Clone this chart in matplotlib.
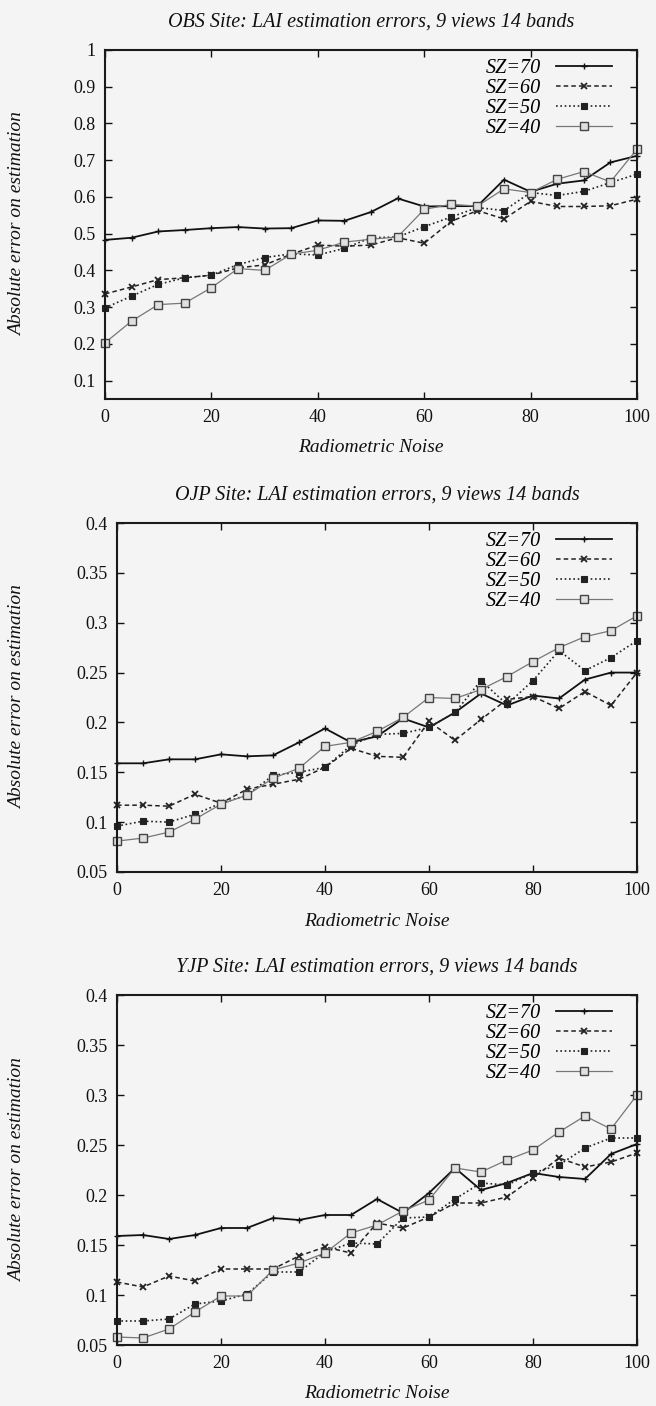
import matplotlib
matplotlib.use("Agg")
import matplotlib.pyplot as plt
from matplotlib.ticker import FuncFormatter

noise = [0, 5, 10, 15, 20, 25, 30, 35, 40, 45, 50, 55, 60, 65, 70, 75, 80, 85, 90, 95, 100]
labels = ["SZ=70", "SZ=60", "SZ=50", "SZ=40"]

titles = ["OBS Site: LAI estimation errors, 9 views 14 bands",
          "OJP Site: LAI estimation errors, 9 views 14 bands",
          "YJP Site: LAI estimation errors, 9 views 14 bands"]

# OBS site
obs_sz70 = [0.483, 0.489, 0.506, 0.510, 0.515, 0.518, 0.514, 0.515, 0.536, 0.535, 0.559,
            0.596, 0.574, 0.575, 0.575, 0.647, 0.614, 0.636, 0.645, 0.694, 0.712]
obs_sz60 = [0.336, 0.355, 0.375, 0.380, 0.387, 0.407, 0.415, 0.444, 0.469, 0.466, 0.469,
            0.489, 0.474, 0.533, 0.563, 0.540, 0.588, 0.574, 0.574, 0.576, 0.594]
obs_sz50 = [0.298, 0.330, 0.362, 0.380, 0.387, 0.416, 0.435, 0.445, 0.442, 0.460, 0.489,
            0.491, 0.519, 0.545, 0.571, 0.563, 0.612, 0.604, 0.615, 0.639, 0.662]
obs_sz40 = [0.203, 0.262, 0.307, 0.311, 0.353, 0.405, 0.400, 0.444, 0.455, 0.477, 0.485,
            0.491, 0.566, 0.580, 0.575, 0.622, 0.612, 0.648, 0.669, 0.641, 0.730]

# OJP site
ojp_sz70 = [0.159, 0.159, 0.163, 0.163, 0.168, 0.166, 0.167, 0.180, 0.194, 0.180, 0.186,
            0.204, 0.195, 0.210, 0.229, 0.217, 0.227, 0.224, 0.243, 0.250, 0.250]
ojp_sz60 = [0.117, 0.117, 0.116, 0.128, 0.119, 0.133, 0.138, 0.143, 0.155, 0.174, 0.166,
            0.165, 0.201, 0.182, 0.203, 0.223, 0.226, 0.214, 0.231, 0.217, 0.250]
ojp_sz50 = [0.096, 0.101, 0.100, 0.108, 0.119, 0.127, 0.147, 0.150, 0.155, 0.177, 0.188,
            0.189, 0.195, 0.210, 0.242, 0.218, 0.242, 0.272, 0.252, 0.265, 0.282]
ojp_sz40 = [0.081, 0.084, 0.090, 0.103, 0.118, 0.127, 0.144, 0.154, 0.176, 0.180, 0.191,
            0.205, 0.225, 0.224, 0.233, 0.246, 0.261, 0.275, 0.286, 0.292, 0.307]

# YJP site
yjp_sz70 = [0.159, 0.160, 0.156, 0.160, 0.167, 0.167, 0.177, 0.175, 0.180, 0.180, 0.196,
            0.182, 0.202, 0.227, 0.205, 0.212, 0.222, 0.218, 0.216, 0.241, 0.251]
yjp_sz60 = [0.113, 0.108, 0.119, 0.114, 0.126, 0.126, 0.126, 0.139, 0.148, 0.142, 0.172,
            0.167, 0.178, 0.192, 0.192, 0.198, 0.217, 0.237, 0.228, 0.233, 0.242]
yjp_sz50 = [0.074, 0.074, 0.076, 0.091, 0.094, 0.101, 0.123, 0.123, 0.143, 0.152, 0.151,
            0.177, 0.178, 0.196, 0.212, 0.210, 0.222, 0.230, 0.247, 0.257, 0.257]
yjp_sz40 = [0.058, 0.057, 0.066, 0.083, 0.099, 0.099, 0.125, 0.132, 0.142, 0.162, 0.170,
            0.184, 0.195, 0.227, 0.223, 0.235, 0.245, 0.263, 0.279, 0.266, 0.300]

panels = [
    dict(title=titles[0], series=[obs_sz70, obs_sz60, obs_sz50, obs_sz40],
         ylim=(0.05, 1.0), yticks=[0.1, 0.2, 0.3, 0.4, 0.5, 0.6, 0.7, 0.8, 0.9, 1.0],
         box=(105, 50, 637, 399)),
    dict(title=titles[1], series=[ojp_sz70, ojp_sz60, ojp_sz50, ojp_sz40],
         ylim=(0.05, 0.4), yticks=[0.05, 0.1, 0.15, 0.2, 0.25, 0.3, 0.35, 0.4],
         box=(117, 523, 637, 872)),
    dict(title=titles[2], series=[yjp_sz70, yjp_sz60, yjp_sz50, yjp_sz40],
         ylim=(0.05, 0.4), yticks=[0.05, 0.1, 0.15, 0.2, 0.25, 0.3, 0.35, 0.4],
         box=(117, 995, 637, 1345)),
]

W, H = 656, 1406
BG = "#f4f4f4"
FONT = "Liberation Serif"

styles = [
    dict(color="#111111", lw=1.3, ls="-", marker="+", ms=5, mew=1.0, mfc="#111111", mec="#111111"),
    dict(color="#222222", lw=1.1, ls=(0, (3, 2)), marker="x", ms=4.5, mew=1.3, mfc="#222222", mec="#222222"),
    dict(color="#222222", lw=1.2, ls=(0, (1, 1.6)), marker="s", ms=4, mew=0.8, mfc="#222222", mec="#222222"),
    dict(color="#777777", lw=0.9, ls="-", marker="s", ms=5.5, mew=1.0, mfc="#e0e0e0", mec="#444444"),
]

plt.rcParams["font.family"] = [FONT, "DejaVu Serif"]

fig = plt.figure(figsize=(W / 100, H / 100), dpi=100, facecolor=BG)

for p in panels:
    l, t, r, b = p["box"]
    ax = fig.add_axes([l / W, 1 - b / H, (r - l) / W, (b - t) / H])
    ax.set_facecolor(BG)
    hpx = b - t
    wpx = r - l
    handles = []
    for s, lab, st in zip(p["series"], labels, styles):
        h, = ax.plot(noise, s, label=lab, clip_on=False, **st)
        handles.append(h)
    ax.set_xlim(0, 100)
    ax.set_ylim(*p["ylim"])
    ax.set_xticks([0, 20, 40, 60, 80, 100])
    ax.set_yticks(p["yticks"])
    ax.yaxis.set_major_formatter(FuncFormatter(lambda v, pos: f"{v:g}"))
    ax.tick_params(direction="in", length=5, width=1.0, top=True, right=True,
                   labelsize=13, pad=7, colors="#111111")
    for sp in ax.spines.values():
        sp.set_linewidth(1.5)
        sp.set_color("#1a1a1a")
    ax.set_title(p["title"], fontsize=14.5, style="italic", color="#111111",
                 y=1 + 28 / hpx, pad=0, va="center")
    ax.set_xlabel("Radiometric Noise", fontsize=14, style="italic", color="#111111")
    ax.xaxis.set_label_coords(0.5, -49 / hpx)
    ax.xaxis.label.set_va("center")
    ax.set_ylabel("Absolute error on estimation", fontsize=14, style="italic", color="#111111")
    ax.yaxis.set_label_coords((18 - l) / wpx, 0.5)
    ax.yaxis.label.set_va("center")
    ax.legend(handles=handles, loc="upper right",
              bbox_to_anchor=((612 - l) / wpx, 1 - 9 / hpx),
              frameon=False, markerfirst=False, numpoints=1,
              handlelength=2.8, handletextpad=0.7, labelspacing=0.05,
              borderpad=0, borderaxespad=0,
              prop=dict(family=FONT, style="italic", size=14.5))

fig.savefig("out.png", dpi=100, facecolor=BG)
